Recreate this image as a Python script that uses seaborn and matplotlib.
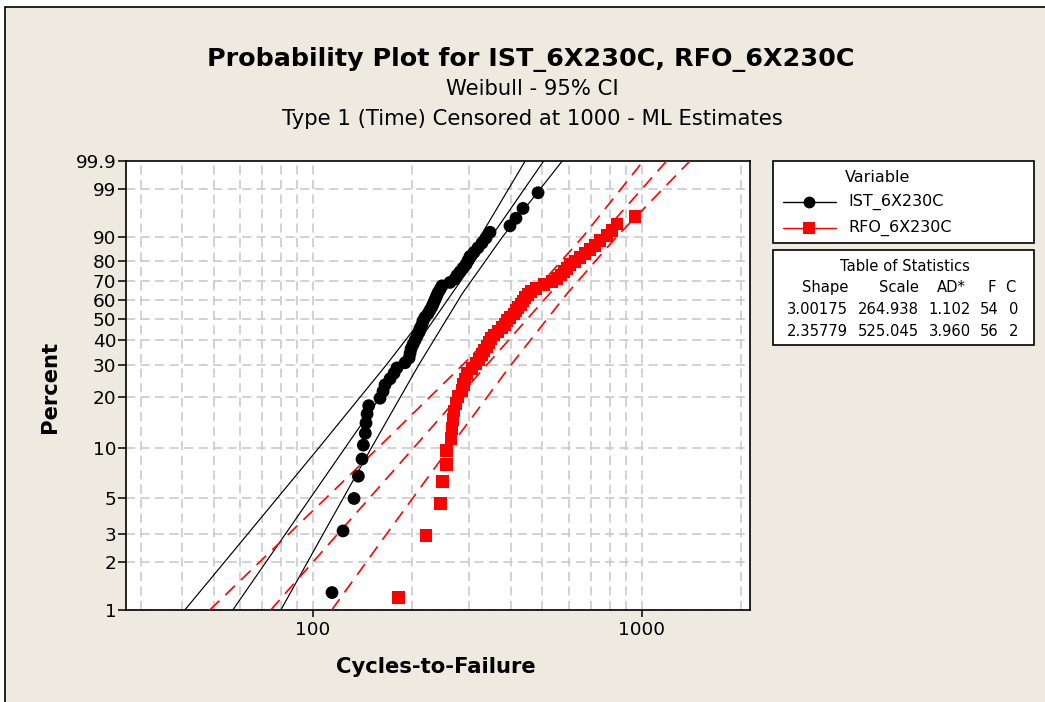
import numpy as np
import pandas as pd
import matplotlib
matplotlib.use("Agg")
import matplotlib.pyplot as plt
import seaborn as sns
from matplotlib.patches import Rectangle
from matplotlib.lines import Line2D

# ---------------- data ----------------
ist_cycles = [114.6, 123.8, 133.7, 137.8, 141.4, 142.7, 144.7, 145.4, 146.5, 148.2,
              160.4, 163.8, 166.1, 172.0, 176.9, 180.6, 191.1, 196.6, 197.9, 199.3,
              202.1, 205.0, 207.8, 210.8, 212.2, 215.2, 216.7, 219.8, 224.4, 227.6,
              230.8, 233.2, 235.7, 238.2, 240.7, 244.1, 247.5, 261.7, 271.0, 274.9,
              280.7, 286.7, 292.9, 297.0, 301.1, 309.6, 318.4, 327.5, 336.9, 346.4,
              398.3, 415.4, 436.3, 484.7]
rfo_cycles = [182.2, 221.3, 245.3, 248.8, 255.5, 255.5, 263.6, 265.5, 267.3, 269.2,
              273.0, 276.8, 284.7, 287.7, 290.8, 294.9, 305.4, 314.1, 320.8, 327.5,
              332.1, 339.3, 344.1, 348.9, 356.3, 366.4, 376.7, 384.7, 390.2, 398.5,
              409.8, 415.5, 421.4, 430.3, 436.3, 442.5, 451.9, 461.5, 477.9, 505.4,
              534.5, 553.5, 569.2, 581.2, 593.6, 606.3, 628.0, 650.4, 673.6, 697.6,
              722.4, 748.1, 785.7, 813.7, 842.6, 955.5]
rfo_censored = 2

variables = ["IST_6X230C", "RFO_6X230C"]
shapes = [3.00175, 2.35779]
scales = [264.938, 525.045]
ad_stats = ["1.102", "3.960"]
fail_counts = [54, 56]
cens_counts = [0, 2]

band_pct = [1, 3, 10, 30, 63.2, 90, 99.9]
ist_lower = [40.9, 63.6, 104.1, 167.8, 246.4, 323.5, 443.0]
ist_upper = [80.1, 107.8, 150.6, 210.5, 284.9, 378.6, 574.3]
rfo_lower = [48.7, 84.8, 157.4, 286.4, 464.7, 664.2, 1012.5]
rfo_upper = [114.4, 168.1, 259.8, 401.6, 593.2, 841.4, 1403.6]

pct_ticks = [1, 2, 3, 5, 10, 20, 30, 40, 50, 60, 70, 80, 90, 99, 99.9]
pct_labels = ["1", "2", "3", "5", "10", "20", "30", "40", "50", "60", "70", "80", "90", "99", "99.9"]
x_major = [100, 1000]
x_grid = [30, 40, 50, 60, 70, 80, 90, 100, 200, 300, 400, 500, 600, 700, 800, 900, 1000, 2000]

title = "Probability Plot for IST_6X230C, RFO_6X230C"
sub1 = "Weibull - 95% CI"
sub2 = "Type 1 (Time) Censored at 1000 - ML Estimates"

# ---------------- figure ----------------
sns.set_theme(style="white")
plt.rcParams['font.family'] = ['DejaVu Sans']
plt.rcParams['text.color'] = 'black'
plt.rcParams['axes.labelcolor'] = 'black'
plt.rcParams['xtick.color'] = 'black'
plt.rcParams['ytick.color'] = 'black'

W, H = 1045, 702
fig = plt.figure(figsize=(W / 100, H / 100), dpi=100)
fig.patch.set_facecolor("white")
BG = "#EEEAE0"
fig.patches.append(Rectangle((5 / W, -0.1), 1.2, (H - 7) / H + 0.1, transform=fig.transFigure,
                             facecolor=BG, edgecolor="black", lw=1.2, zorder=-10))

def fx(x):
    return x / W

def fy(y):
    return 1 - y / H

ax = fig.add_axes([fx(126), fy(610), (750 - 126) / W, (610 - 161) / H])
ax.set_facecolor("white")

def fwd(p):
    p = np.clip(np.asarray(p, dtype=float), 1e-9, 100 - 1e-9)
    return np.log(-np.log(1 - p / 100.0))

def inv(w):
    return 100.0 * (1 - np.exp(-np.exp(np.asarray(w, dtype=float))))

ax.set_xscale("log")
ax.set_yscale("function", functions=(fwd, inv))
ax.set_xlim(27.1, 2137)
ax.set_ylim(1, 99.9)

# grid
grid_kw = dict(color="#C6C6C6", lw=1.1, ls=(0, (6, 3.5)), zorder=0)
for gx in x_grid:
    ax.axvline(gx, **grid_kw)
for gp in pct_ticks[:-1]:
    ax.axhline(gp, **grid_kw)

# median-rank plotting positions
n_ist = len(ist_cycles)
n_rfo = len(rfo_cycles) + rfo_censored
ist_pct = [(i - 0.3) / (n_ist + 0.4) * 100 for i in range(1, n_ist + 1)]
rfo_pct = [(i - 0.3) / (n_rfo + 0.4) * 100 for i in range(1, len(rfo_cycles) + 1)]

# fitted lines and confidence bands
fit_p = np.array([1.0, 99.9])
colors = ["black", "#FF0000"]
line_styles = ["-", (0, (8, 5))]
line_widths = [0.85, 1.2]
bands = [(ist_lower, ist_upper), (rfo_lower, rfo_upper)]
for k in range(2):
    t_fit = scales[k] * (-np.log(1 - fit_p / 100)) ** (1 / shapes[k])
    df = pd.DataFrame({"t": t_fit, "p": fit_p})
    sns.lineplot(data=df, x="t", y="p", ax=ax, sort=False, estimator=None,
                 color=colors[k], lw=line_widths[k], linestyle=line_styles[k], zorder=3)
    for arr in bands[k]:
        dfb = pd.DataFrame({"t": arr, "p": band_pct})
        sns.lineplot(data=dfb, x="t", y="p", ax=ax, sort=False, estimator=None,
                     color=colors[k], lw=line_widths[k], linestyle=line_styles[k], zorder=3)

sns.scatterplot(x=ist_cycles, y=ist_pct, ax=ax, marker="o", s=85, color="black",
                edgecolor="none", linewidth=0, zorder=4)
sns.scatterplot(x=rfo_cycles, y=rfo_pct, ax=ax, marker="s", s=85, color="#FF0000",
                edgecolor="none", linewidth=0, zorder=4)

ax.set_yticks(pct_ticks)
ax.set_yticklabels(pct_labels)
ax.set_xticks(x_major)
ax.set_xticklabels([str(v) for v in x_major])
ax.xaxis.set_minor_locator(matplotlib.ticker.NullLocator())
ax.yaxis.set_minor_locator(matplotlib.ticker.NullLocator())
ax.tick_params(axis="y", which="major", direction="out", length=5.8, width=1.1,
               color="black", labelsize=13.3, labelcolor="black", pad=1.2, left=True)
ax.tick_params(axis="x", which="major", direction="out", length=5.2, width=1.1,
               color="black", labelsize=13.3, labelcolor="black", pad=3, bottom=True)
for s in ax.spines.values():
    s.set_color("black")
    s.set_linewidth(1.2)
    s.set_visible(True)
ax.set_xlabel("")
ax.set_ylabel("")

# titles and axis labels
fig.text(fx(531), fy(60), title, ha="center", va="center", fontsize=18.3, fontweight="bold")
fig.text(fx(532), fy(89), sub1, ha="center", va="center", fontsize=15.2)
fig.text(fx(532), fy(119), sub2, ha="center", va="center", fontsize=15.2)
fig.text(fx(436), fy(667), "Cycles-to-Failure", ha="center", va="center", fontsize=15.2, fontweight="bold")
fig.text(fx(50), fy(387), "Percent", ha="center", va="center", fontsize=15.2, fontweight="bold", rotation=90)

# legend box
fig.patches.append(Rectangle((fx(773), fy(243)), (1034 - 773) / W, (243 - 161) / H,
                             transform=fig.transFigure, facecolor="white", edgecolor="black", lw=1.2))
fig.text(fx(878), fy(177), "Variable", ha="center", va="center", fontsize=11.5)
for k, yy in enumerate([202, 228]):
    fig.lines.append(Line2D([fx(783), fx(836)], [fy(yy), fy(yy)], transform=fig.transFigure,
                            color=colors[k], lw=1.0))
    fig.lines.append(Line2D([fx(809.5)], [fy(yy)], transform=fig.transFigure, color=colors[k],
                            marker="o" if k == 0 else "s", markersize=8.5, markeredgewidth=0, ls="none"))
    fig.text(fx(848), fy(yy), variables[k], ha="left", va="center", fontsize=11.5)

# table of statistics
fig.patches.append(Rectangle((fx(773), fy(345)), (1034 - 773) / W, (345 - 250) / H,
                             transform=fig.transFigure, facecolor="white", edgecolor="black", lw=1.2))
fig.text(fx(905), fy(266), "Table of Statistics", ha="center", va="center", fontsize=10.6)
hdr = ["Shape", "Scale", "AD*", "F", "C"]
hdr_x = [848, 919, 966, 996, 1015]
val_x = [848, 919, 971, 999, 1018]
for h, xx in zip(hdr, hdr_x):
    fig.text(fx(xx), fy(287.5), h, ha="right", va="center", fontsize=10.6)
for r, yy in enumerate([309.5, 331.5]):
    vals = [f"{shapes[r]:.5f}", f"{scales[r]:.3f}", ad_stats[r], str(fail_counts[r]), str(cens_counts[r])]
    for v, xx in zip(vals, val_x):
        fig.text(fx(xx), fy(yy), v, ha="right", va="center", fontsize=10.6)

fig.savefig("out.png", dpi=100, facecolor=fig.get_facecolor())
